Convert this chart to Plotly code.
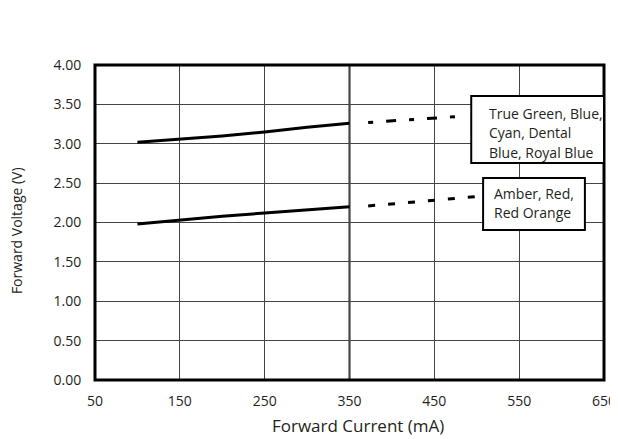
import plotly.graph_objects as go

# Data
current_solid = [100, 150, 200, 250, 300, 350]
v_green_blue = [3.02, 3.06, 3.10, 3.15, 3.21, 3.26]
v_amber_red = [1.98, 2.03, 2.08, 2.12, 2.16, 2.20]
current_ext_top = [372, 483]
v_green_blue_ext = [3.27, 3.35]
current_ext_bot = [372, 501]
v_amber_red_ext = [2.21, 2.33]
x_ticks = [50, 150, 250, 350, 450, 550, 650]
y_ticks = [0, 0.5, 1.0, 1.5, 2.0, 2.5, 3.0, 3.5, 4.0]
label_top = ["True Green, Blue,", "Cyan, Dental", "Blue, Royal Blue"]
label_bot = ["Amber, Red,", "Red Orange"]

FONT = "Open Sans"
INK = "#231f20"
GRID = "#444444"

fig = go.Figure()
for ys in (v_green_blue, v_amber_red):
    fig.add_trace(go.Scatter(x=current_solid, y=ys, mode="lines",
                             line=dict(color="black", width=3), showlegend=False))
fig.add_trace(go.Scatter(x=current_ext_top, y=v_green_blue_ext, mode="lines",
                         line=dict(color="black", width=3, dash="5px,13px,10px,13px"),
                         showlegend=False))
fig.add_trace(go.Scatter(x=current_ext_bot, y=v_amber_red_ext, mode="lines",
                         line=dict(color="black", width=3, dash="7px,13px"),
                         showlegend=False))

shapes = []
shapes.append(dict(type="line", xref="x", yref="paper", x0=350, x1=350, y0=0, y1=1,
                   line=dict(color="#222", width=2), layer="below"))
shapes.append(dict(type="rect", xref="paper", yref="paper", x0=0, x1=1, y0=0, y1=1,
                   line=dict(color="black", width=3)))
shapes.append(dict(type="rect", xref="x", yref="y", x0=493.5, x1=650, y0=2.755, y1=3.605,
                   line=dict(color="black", width=2), fillcolor="white"))
shapes.append(dict(type="rect", xref="x", yref="y", x0=507.5, x1=627.5, y0=1.905, y1=2.565,
                   line=dict(color="black", width=2), fillcolor="white"))

annotations = []
for txt, yv in zip(label_top, [3.378, 3.137, 2.895]):
    annotations.append(dict(x=512, y=yv, xref="x", yref="y", text=txt, showarrow=False,
                            xanchor="left", yanchor="middle",
                            font=dict(family=FONT, size=14, color=INK)))
for txt, yv in zip(label_bot, [2.362, 2.121]):
    annotations.append(dict(x=518, y=yv, xref="x", yref="y", text=txt, showarrow=False,
                            xanchor="left", yanchor="middle",
                            font=dict(family=FONT, size=14, color=INK)))
annotations.append(dict(x=0.517, y=-0.143, xref="paper", yref="paper",
                        text="Forward Current (mA)", showarrow=False,
                        xanchor="center", yanchor="middle",
                        font=dict(family=FONT, size=17, color=INK)))
annotations.append(dict(x=-0.155, y=0.473, xref="paper", yref="paper",
                        text="Forward Voltage (V)", showarrow=False, textangle=-90,
                        xanchor="center", yanchor="middle",
                        font=dict(family=FONT, size=14, color=INK)))

# The page body adds an 8px offset, so the figure is sized 8px smaller.
fig.update_layout(
    width=610, height=431,
    margin=dict(l=87, r=14, t=57, b=59, autoexpand=False),
    paper_bgcolor="white", plot_bgcolor="white",
    shapes=shapes, annotations=annotations,
    font=dict(family=FONT, size=14, color=INK),
    xaxis=dict(range=[50, 650], tickvals=x_ticks, ticktext=[str(v) for v in x_ticks],
               showgrid=True, gridcolor=GRID, gridwidth=1, zeroline=False,
               ticks="outside", ticklen=8, tickcolor="rgba(0,0,0,0)", automargin=False,
               tickfont=dict(family=FONT, size=14, color=INK), showline=False),
    yaxis=dict(range=[0, 4], tickvals=y_ticks, ticktext=[f"{v:.2f}" for v in y_ticks],
               showgrid=True, gridcolor=GRID, gridwidth=1, zeroline=False,
               ticks="outside", ticklen=10, tickcolor="rgba(0,0,0,0)", automargin=False,
               tickfont=dict(family=FONT, size=14, color=INK), showline=False),
)

fig.write_html("out.html")
